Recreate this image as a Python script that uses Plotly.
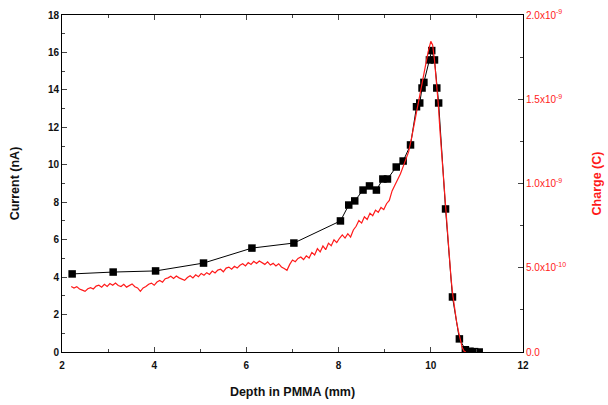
import plotly.graph_objects as go

# Current (black squares)
depth_cur = [2.22, 3.11, 4.03, 5.07, 6.12, 7.03, 8.04, 8.22, 8.35, 8.53, 8.67, 8.82, 8.96, 9.06,
             9.25, 9.40, 9.56, 9.69, 9.76, 9.81, 9.85, 9.97, 10.02, 10.08, 10.13, 10.17, 10.32,
             10.47, 10.62, 10.75, 10.85, 10.95, 11.05]
current_nA = [4.17, 4.27, 4.33, 4.75, 5.55, 5.82, 7.0, 7.85, 8.07, 8.65, 8.87, 8.65, 9.24, 9.24,
              9.88, 10.2, 11.06, 13.1, 13.3, 14.1, 14.4, 15.6, 16.1, 15.6, 14.1, 13.3, 7.64,
              2.94, 0.7, 0.12, 0.04, 0.02, 0.0]

# Charge (red trace), values in units of 1e-10 C
depth_chg = [2.20, 2.26, 2.32, 2.38, 2.44, 2.50, 2.56, 2.62, 2.68, 2.74, 2.80, 2.86, 2.92, 2.98,
             3.04, 3.10, 3.16, 3.22, 3.28, 3.34, 3.40, 3.46, 3.52, 3.58, 3.64, 3.70, 3.76, 3.82,
             3.88, 3.94, 4.00, 4.06, 4.12, 4.18, 4.24, 4.30, 4.36, 4.42, 4.48, 4.54, 4.60, 4.66,
             4.72, 4.78, 4.84, 4.90, 4.96, 5.02, 5.08, 5.14, 5.20, 5.26, 5.32, 5.38, 5.44, 5.50,
             5.56, 5.62, 5.68, 5.74, 5.80, 5.86, 5.92, 5.98, 6.04, 6.10, 6.16, 6.22, 6.28, 6.34,
             6.40, 6.46, 6.52, 6.58, 6.64, 6.70, 6.76, 6.82, 6.88, 6.94, 7.00, 7.06, 7.12, 7.18,
             7.24, 7.30, 7.36, 7.42, 7.48, 7.54, 7.60, 7.66, 7.72, 7.78, 7.84, 7.90, 7.96, 8.02,
             8.08, 8.14, 8.20, 8.26, 8.32, 8.38, 8.44, 8.50, 8.56, 8.62, 8.68, 8.74, 8.80, 8.86,
             8.92, 8.98, 9.04, 9.10, 9.16, 9.22, 9.28, 9.34, 9.40, 9.46, 9.52, 9.58, 9.64, 9.70,
             9.76, 9.82, 9.88, 9.94, 10.00, 10.04, 10.08, 10.12, 10.16, 10.20, 10.24, 10.28,
             10.32, 10.36, 10.40, 10.44, 10.48, 10.52, 10.56, 10.60, 10.64, 10.68, 10.72, 10.76]
charge_e10 = [3.89, 3.80, 3.88, 3.74, 3.67, 3.60, 3.75, 3.82, 3.74, 3.91, 3.96, 3.85, 4.02, 3.89,
              4.06, 3.96, 4.09, 3.95, 3.89, 4.02, 3.85, 3.96, 4.04, 3.87, 3.80, 3.60, 3.80, 3.89,
              4.02, 4.09, 3.96, 4.15, 4.24, 4.14, 4.35, 4.40, 4.49, 4.36, 4.51, 4.40, 4.31, 4.25,
              4.42, 4.53, 4.40, 4.58, 4.47, 4.66, 4.56, 4.71, 4.60, 4.80, 4.69, 4.86, 4.91, 4.76,
              4.98, 5.04, 4.91, 5.09, 4.98, 5.15, 5.24, 5.11, 5.31, 5.20, 5.38, 5.25, 5.40, 5.29,
              5.20, 5.35, 5.16, 5.26, 5.11, 5.24, 5.05, 4.96, 4.85, 5.20, 5.46, 5.36, 5.55, 5.64,
              5.49, 5.71, 5.58, 5.91, 5.76, 6.13, 5.94, 6.29, 6.07, 6.46, 6.31, 6.66, 6.49, 6.75,
              6.95, 6.76, 7.02, 6.82, 7.24, 7.46, 7.80, 7.65, 8.02, 7.87, 8.24, 8.09, 8.42, 8.29,
              8.58, 8.45, 8.80, 9.00, 9.56, 9.89, 10.22, 10.56, 11.00, 11.44, 11.89, 12.67, 13.56, 14.44,
              15.11, 16.00, 16.89, 17.78, 18.44, 18.22, 17.33, 16.22, 14.78, 13.11, 11.56, 10.00,
              8.44, 7.00, 5.56, 4.33, 3.33, 2.44, 1.78, 1.22, 0.67, 0.28, 0.06, 0.00]
charge_C = [v * 1e-10 for v in charge_e10]

x_ticks = [2, 4, 6, 8, 10, 12]
y_ticks = [0, 2, 4, 6, 8, 10, 12, 14, 16, 18]
y2_ticks = [0, 5e-10, 1e-9, 1.5e-9, 2e-9]
y2_labels = ["0.0", "5.0x10<sup>-10</sup>", "1.0x10<sup>-9</sup>", "1.5x10<sup>-9</sup>", "2.0x10<sup>-9</sup>"]

RED = "#ff1a1a"
fig = go.Figure()
fig.add_trace(go.Scatter(x=depth_cur, y=current_nA, mode="lines+markers",
                         line=dict(color="black", width=1),
                         marker=dict(symbol="square", size=7.5, color="black"), showlegend=False))
fig.add_trace(go.Scatter(x=depth_chg, y=charge_C, yaxis="y2", mode="lines",
                         line=dict(color=RED, width=1.2), showlegend=False))

font = "Liberation Sans, Arial, sans-serif"
fig.update_layout(
    width=608, height=405,
    margin=dict(l=62, r=85, t=15, b=53),
    paper_bgcolor="white", plot_bgcolor="white",
    font=dict(family=font, color="#111"),
    xaxis=dict(range=[2, 12], tickvals=x_ticks, ticks="inside", ticklen=5, tickwidth=1,
               showline=True, linecolor="black", linewidth=1, mirror="ticks", showgrid=False,
               zeroline=False, tickfont=dict(size=10, family=font, weight="bold"),
               ticklabelstandoff=4, automargin=False,
               minor=dict(ticks="inside", ticklen=3, dtick=1, showgrid=False),
               title=dict(text="<b>Depth in PMMA (mm)</b>", font=dict(size=12.5), standoff=17)),
    yaxis=dict(range=[0, 18], tickvals=y_ticks, ticks="inside", ticklen=5, tickwidth=1,
               showline=True, linecolor="black", linewidth=1, showgrid=False, zeroline=False,
               tickfont=dict(size=10, family=font, weight="bold"), automargin=False,
               minor=dict(ticks="inside", ticklen=3, dtick=1, showgrid=False),
               title=dict(text="<b>Current (nA)</b>", font=dict(size=12.5), standoff=25)),
    yaxis2=dict(range=[0, 2e-9], overlaying="y", side="right", tickvals=y2_ticks,
                ticktext=y2_labels, ticks="inside", ticklen=5, tickwidth=1,
                showline=True, linecolor="black", linewidth=1, showgrid=False, zeroline=False,
                tickfont=dict(size=10, family=font, color=RED), automargin=False,
                minor=dict(ticks="inside", ticklen=3, dtick=2.5e-10, showgrid=False),
                title=dict(text="<b>Charge (C)</b>", font=dict(size=12.5, color=RED), standoff=26)),
)
fig.write_html("out.html")
